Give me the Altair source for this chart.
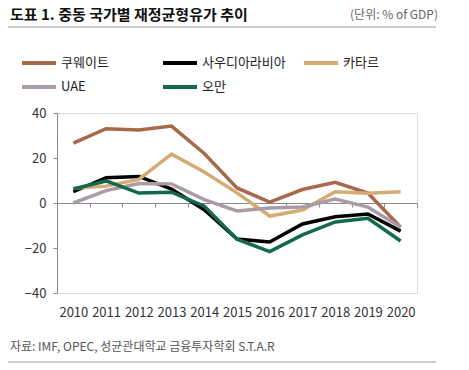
import altair as alt
import pandas as pd

years = [2010, 2011, 2012, 2013, 2014, 2015, 2016, 2017, 2018, 2019, 2020]
series_names = ["쿠웨이트", "사우디아라비아", "카타르", "UAE", "오만"]
kuwait = [26.6, 33.0, 32.4, 34.2, 22.0, 6.7, 0.4, 6.0, 9.2, 4.4, -10.8]
saudi = [5.0, 11.2, 11.8, 6.2, -3.0, -16.0, -17.3, -9.3, -6.1, -4.9, -12.5]
qatar = [6.5, 7.5, 10.5, 21.7, 13.8, 4.5, -5.8, -3.1, 5.0, 4.3, 5.0]
uae = [0.0, 5.5, 8.7, 8.5, 1.5, -3.5, -2.2, -1.8, 1.8, -1.8, -10.8]
oman = [6.2, 9.8, 4.4, 4.8, -1.4, -16.1, -21.6, -14.2, -8.4, -6.8, -16.9]
colors = ["#A66A4B", "#000000", "#D5AB73", "#AA9CA6", "#12694B"]

title_text = "도표 1. 중동 국가별 재정균형유가 추이"
unit_text = "(단위: % of GDP)"
source_text = "자료: IMF, OPEC, 성균관대학교 금융투자학회 S.T.A.R"

rows = []
for name, vals in zip(series_names, [kuwait, saudi, qatar, uae, oman]):
    for i, (y, v) in enumerate(zip(years, vals)):
        rows.append({"year": y, "value": v, "country": name, "order": i})
df = pd.DataFrame(rows)

FONT = "Noto Sans CJK KR"
x_scale = alt.Scale(domain=[2009.5, 2020.5], nice=False, zero=False)
y_scale = alt.Scale(domain=[-40, 40], nice=False)

lines = alt.Chart(df).mark_line(strokeWidth=3.5, strokeJoin="miter", strokeCap="butt").encode(
    x=alt.X("year:Q", scale=x_scale,
            axis=alt.Axis(orient="bottom", values=years, format="d", title=None,
                          domain=False, ticks=False, tickSize=0, grid=False,
                          labelFontSize=13, labelColor="#333333", labelFont=FONT,
                          labelPadding=13, labelFlush=False, labelOverlap=False)),
    y=alt.Y("value:Q", scale=y_scale,
            axis=alt.Axis(values=[-40, -20, 0, 20, 40], title=None, grid=False,
                          domain=True, domainColor="#888888", ticks=True, tickSize=4,
                          tickColor="#888888", labelFontSize=13, labelColor="#333333",
                          labelFont=FONT, labelPadding=7)),
    color=alt.Color("country:N", scale=alt.Scale(domain=series_names, range=colors),
                    sort=series_names,
                    legend=alt.Legend(orient="none", legendX=-37, legendY=-57, title=None,
                                      direction="horizontal", columns=3, gridAlign="all",
                                      columnPadding=16, rowPadding=10, clipHeight=14,
                                      symbolType="stroke", symbolSize=1156,
                                      symbolStrokeWidth=4, labelOffset=3,
                                      labelFontSize=13, labelFont=FONT,
                                      labelColor="#222222", padding=0)),
    order=alt.Order("order:Q"),
)

zero_axis = alt.Chart(df).mark_line(opacity=0).encode(
    x=alt.X("year:Q", scale=x_scale,
            axis=alt.Axis(orient="bottom", offset=-90, values=[y - 0.5 for y in years] + [2020.5],
                          labels=False, title=None, domain=True, domainColor="#888888",
                          ticks=True, tickSize=4, tickColor="#888888", grid=False, zindex=0)),
    y=alt.Y("value:Q", scale=y_scale),
    detail="country:N",
)

one = pd.DataFrame({"k": [0]})
title = alt.Chart(one).mark_text(align="left", baseline="alphabetic", fontSize=15,
                                 fontWeight="bold", font=FONT, color="#111111").encode(
    x=alt.value(-47), y=alt.value(-93), text=alt.value(title_text))
unit = alt.Chart(one).mark_text(align="right", baseline="middle", fontSize=12,
                                font=FONT, color="#666666").encode(
    x=alt.value(381), y=alt.value(-98), text=alt.value(unit_text))
top_line = alt.Chart(one).mark_rule(color="#999999", strokeWidth=1).encode(
    x=alt.value(-52), x2=alt.value(379), y=alt.value(-86))
source = alt.Chart(one).mark_text(align="left", baseline="alphabetic", fontSize=12,
                                  font=FONT, color="#555555").encode(
    x=alt.value(-47), y=alt.value(238), text=alt.value(source_text))
bottom_line = alt.Chart(one).mark_rule(color="#999999", strokeWidth=1).encode(
    x=alt.value(-52), x2=alt.value(379), y=alt.value(249))

chart = alt.layer(zero_axis, lines, title, unit, top_line, source, bottom_line).resolve_axis(
    x="independent"
).properties(
    width=360, height=180,
    autosize=alt.AutoSizeParams(type="none"),
    padding={"left": 49, "top": 105, "right": 44, "bottom": 77},
).configure_view(stroke=None).configure(font=FONT)

chart.save("out.html", embed_options={"renderer": "svg", "actions": False})
